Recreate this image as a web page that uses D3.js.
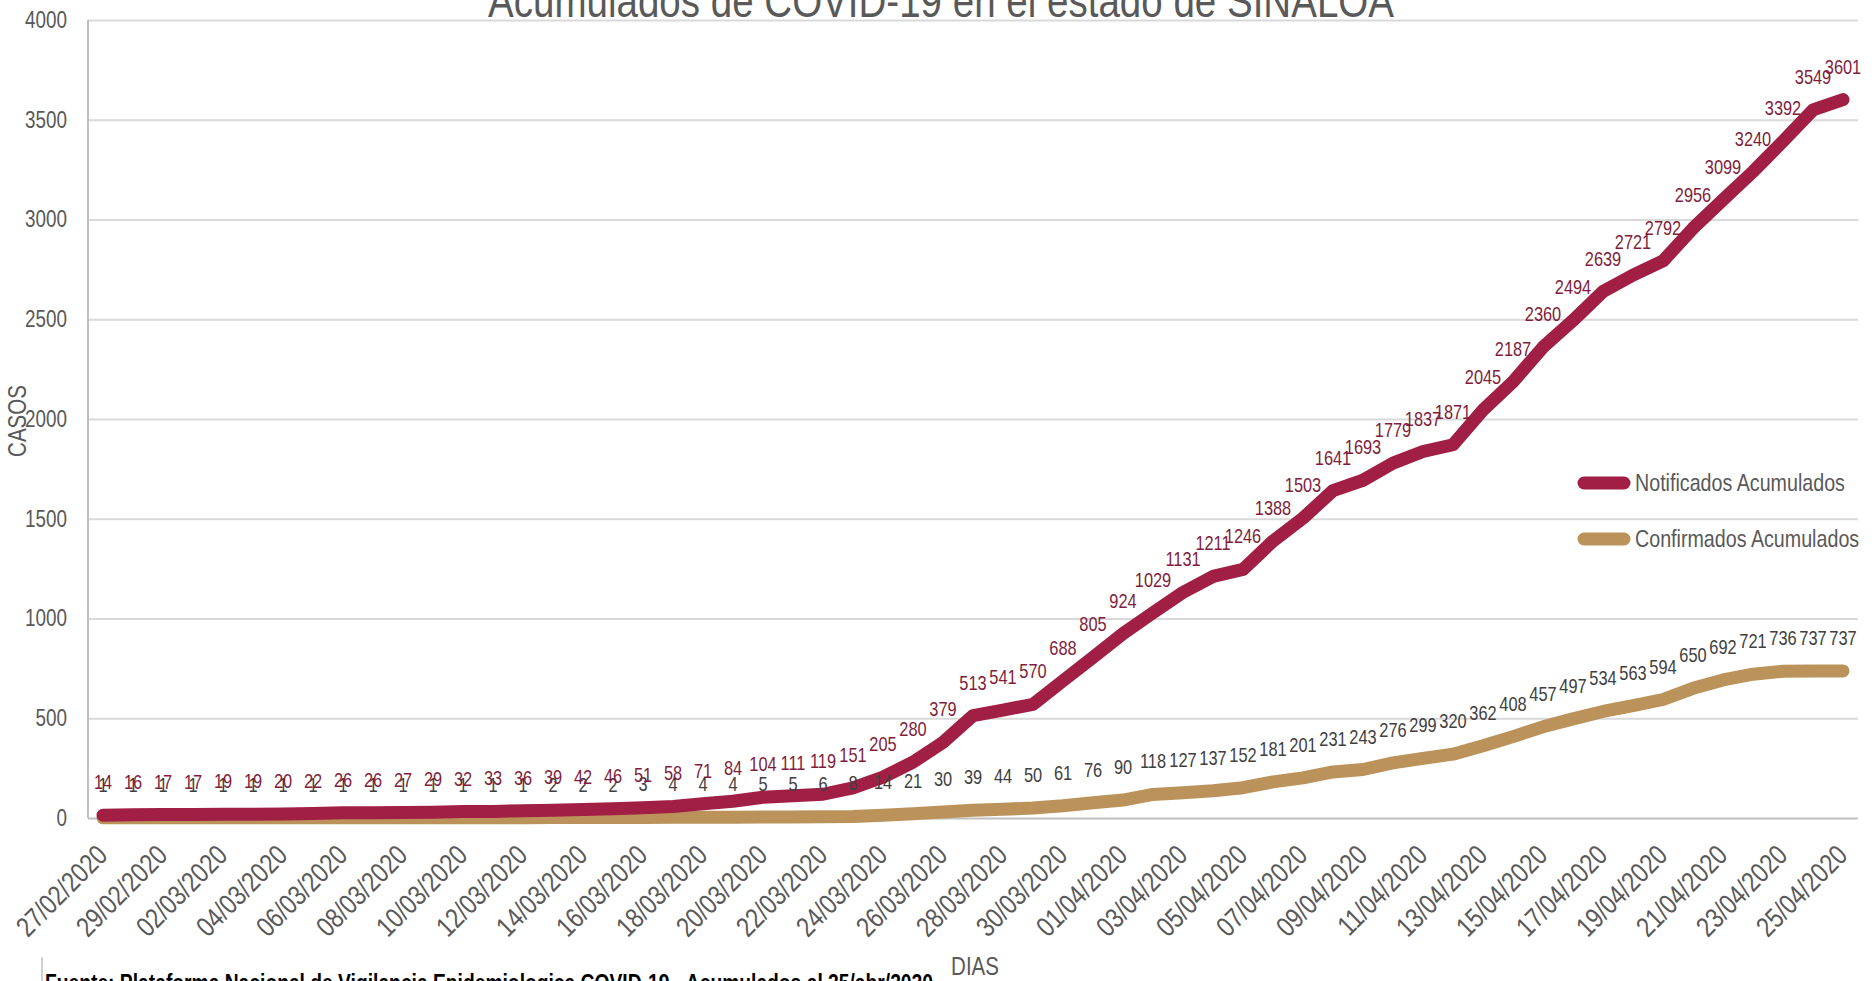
<!DOCTYPE html>
<html>
<head>
<meta charset="utf-8">
<script src="https://cdn.jsdelivr.net/npm/d3@7"></script>
<style>
  body { margin: 0; background: #fff; }
  svg { display: block; font-family: "Liberation Sans", Arial, sans-serif; }
</style>
</head>
<body>
<svg id="chart"></svg>
<script>
  var fechas = ["27/02/2020", "28/02/2020", "29/02/2020", "01/03/2020", "02/03/2020", "03/03/2020",
    "04/03/2020", "05/03/2020", "06/03/2020", "07/03/2020", "08/03/2020", "09/03/2020",
    "10/03/2020", "11/03/2020", "12/03/2020", "13/03/2020", "14/03/2020", "15/03/2020",
    "16/03/2020", "17/03/2020", "18/03/2020", "19/03/2020", "20/03/2020", "21/03/2020",
    "22/03/2020", "23/03/2020", "24/03/2020", "25/03/2020", "26/03/2020", "27/03/2020",
    "28/03/2020", "29/03/2020", "30/03/2020", "31/03/2020", "01/04/2020", "02/04/2020",
    "03/04/2020", "04/04/2020", "05/04/2020", "06/04/2020", "07/04/2020", "08/04/2020",
    "09/04/2020", "10/04/2020", "11/04/2020", "12/04/2020", "13/04/2020", "14/04/2020",
    "15/04/2020", "16/04/2020", "17/04/2020", "18/04/2020", "19/04/2020", "20/04/2020",
    "21/04/2020", "22/04/2020", "23/04/2020", "24/04/2020", "25/04/2020"]

  var notificados = [14, 16, 17, 17, 19, 19, 20, 22, 26, 26, 27, 29, 32, 33, 36, 39, 42, 46, 51, 58,
    71, 84, 104, 111, 119, 151, 205, 280, 379, 513, 541, 570, 688, 805, 924, 1029, 1131, 1211,
    1246, 1388, 1503, 1641, 1693, 1779, 1837, 1871, 2045, 2187, 2360, 2494, 2639, 2721, 2792,
    2956, 3099, 3240, 3392, 3549, 3601]

  var confirmados = [1, 1, 1, 1, 1, 1, 1, 1, 1, 1, 1, 1, 1, 1, 1, 2, 2, 2, 3, 4,
    4, 4, 5, 5, 6, 8, 14, 21, 30, 39, 44, 50, 61, 76, 90, 118, 127, 137,
    152, 181, 201, 231, 243, 276, 299, 320, 362, 408, 457, 497, 534, 563, 594,
    650, 692, 721, 736, 737, 737]

  var yTicks = [0, 500, 1000, 1500, 2000, 2500, 3000, 3500, 4000]

  var series = [
    { name: "Notificados Acumulados", values: notificados, color: "#a11f44", labelColor: "#7f1d3b" },
    { name: "Confirmados Acumulados", values: confirmados, color: "#bb935a", labelColor: "#404040" }
  ]

  var width = 1872
  var height = 981
  // plot box
  var plotLeft = 88, plotRight = 1858, plotTop = 20, plotBottom = 818
  // the reference font is a narrow one; squeeze the regular face
  var squeeze = 'scale(0.82,1)'

  var svg = d3.select('#chart').attr('width', width).attr('height', height)

  var x = d3.scalePoint()
    .domain(fechas)
    .range([plotLeft, plotRight])
    .padding(0.5)

  var y = d3.scaleLinear()
    .domain([0, 4000])
    .range([plotBottom, plotTop])

  // gridlines + y labels
  var yAxis = svg.append('g')
    .attr('transform', 'translate(' + plotLeft + ',0)')
    .call(d3.axisLeft(y).tickValues(yTicks).tickSize(-(plotRight - plotLeft)).tickFormat(d3.format('d')))
  yAxis.select('.domain').remove()
  yAxis.selectAll('.tick line')
    .attr('stroke', function (d) { return d === 0 ? '#bfbfbf' : '#d9d9d9' })
    .attr('stroke-width', 2)
  yAxis.selectAll('.tick text')
    .attr('transform', squeeze)
    .attr('x', -21 / 0.82)
    .attr('fill', '#595959')
    .attr('font-size', 23)
    .attr('font-family', '"Liberation Sans", Arial, sans-serif')

  // left axis line
  svg.append('line')
    .attr('x1', plotLeft).attr('x2', plotLeft)
    .attr('y1', plotTop).attr('y2', plotBottom)
    .attr('stroke', '#bfbfbf')
    .attr('stroke-width', 2)

  // x labels, every second day
  svg.append('g')
    .selectAll('text')
    .data(fechas.filter(function (d, i) { return i % 2 === 0 }))
    .enter().append('text')
    .attr('transform', function (d) {
      return 'translate(' + (x(d) - 1) + ',' + (plotBottom + 32) + ') rotate(-45) ' + squeeze
    })
    .attr('text-anchor', 'end')
    .attr('dy', '0.35em')
    .attr('fill', '#595959')
    .attr('font-size', 28)
    .text(function (d) { return d })

  var line = d3.line()
    .x(function (d, i) { return x(fechas[i]) })
    .y(function (d) { return y(d) })

  // confirmados drawn first so notificados sits on top
  series.slice().reverse().forEach(function (s) {
    svg.append('path')
      .datum(s.values)
      .attr('d', line)
      .attr('fill', 'none')
      .attr('stroke', s.color)
      .attr('stroke-width', 13)
      .attr('stroke-linejoin', 'round')
      .attr('stroke-linecap', 'round')
  })

  series.slice().reverse().forEach(function (s) {
    svg.append('g')
      .selectAll('text')
      .data(s.values)
      .enter().append('text')
      .attr('transform', function (d, i) {
        return 'translate(' + x(fechas[i]) + ',' + (y(d) - 33) + ') ' + squeeze
      })
      .attr('dy', '0.35em')
      .attr('text-anchor', 'middle')
      .attr('fill', s.labelColor)
      .attr('font-size', 20)
      .text(function (d) { return d })
  })

  // legend
  var legend = svg.append('g')
    .selectAll('g')
    .data(series)
    .enter().append('g')
    .attr('transform', function (d, i) { return 'translate(1578,' + (483 + i * 56) + ')' })
  legend.append('line')
    .attr('x1', 6).attr('x2', 46)
    .attr('stroke', function (d) { return d.color })
    .attr('stroke-width', 13)
    .attr('stroke-linecap', 'round')
  legend.append('text')
    .attr('transform', 'translate(57,0) ' + squeeze)
    .attr('dy', '0.35em')
    .attr('fill', '#595959')
    .attr('font-size', 24)
    .text(function (d) { return d.name })

  // title, its top is cut off by the page edge as in the original
  svg.append('text')
    .attr('transform', 'translate(941,17) ' + squeeze)
    .attr('text-anchor', 'middle')
    .attr('fill', '#595959')
    .attr('font-size', 47)
    .text('Acumulados de COVID-19 en el estado de SINALOA')

  // axis titles
  svg.append('text')
    .attr('transform', 'translate(17,421) rotate(-90) ' + squeeze)
    .attr('text-anchor', 'middle')
    .attr('dy', '0.35em')
    .attr('fill', '#595959')
    .attr('font-size', 25)
    .text('CASOS')

  svg.append('text')
    .attr('transform', 'translate(975,975) ' + squeeze)
    .attr('text-anchor', 'middle')
    .attr('fill', '#595959')
    .attr('font-size', 25)
    .text('DIAS')

  // source note
  svg.append('line')
    .attr('x1', 42).attr('x2', 42)
    .attr('y1', 957).attr('y2', 981)
    .attr('stroke', '#d0d0d0')
    .attr('stroke-width', 2)
  svg.append('text')
    .attr('transform', 'translate(45,991) ' + squeeze)
    .attr('fill', '#000')
    .attr('font-weight', 'bold')
    .attr('font-size', 23.5)
    .text('Fuente: Plataforma Nacional de Vigilancia Epidemiologica COVID-19 - Acumulados al 25/abr/2020')
</script>
</body>
</html>
